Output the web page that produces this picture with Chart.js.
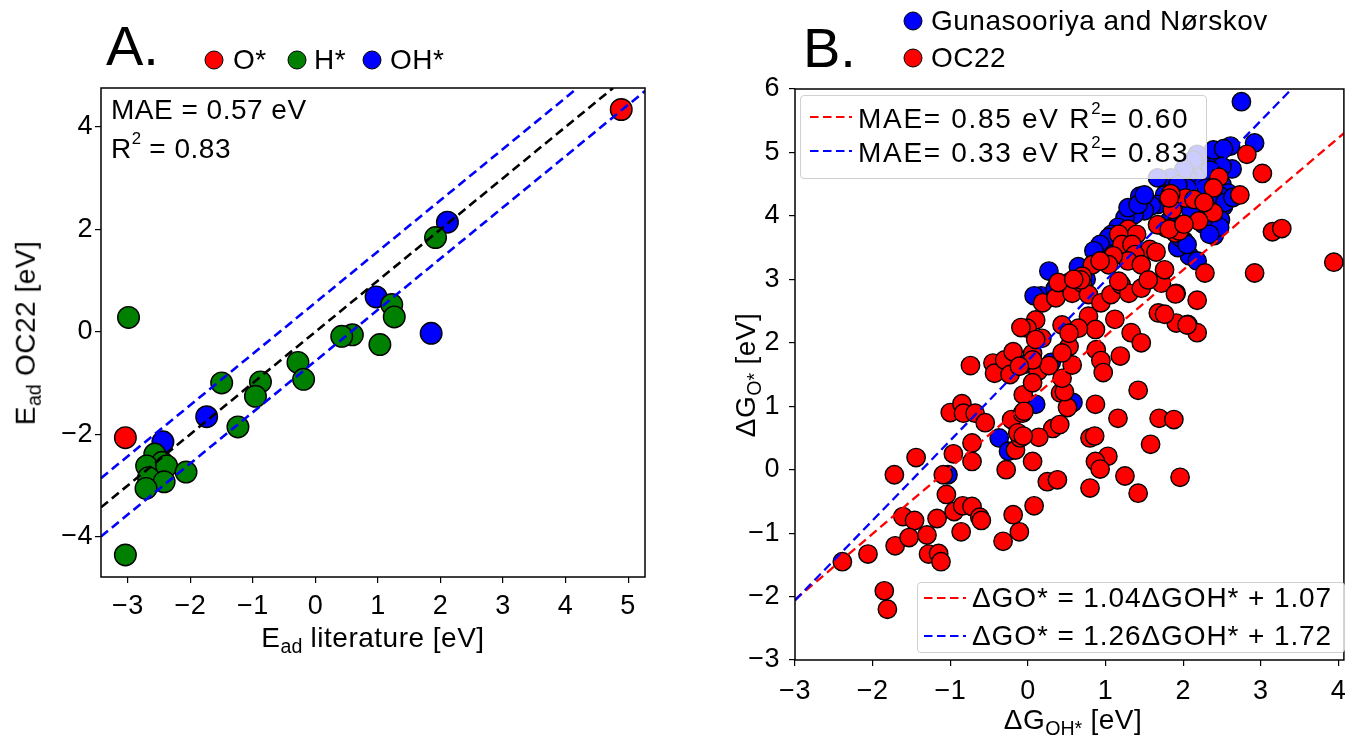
<!DOCTYPE html>
<html>
<head>
<meta charset="utf-8">
<script src="https://cdn.jsdelivr.net/npm/chart.js@4.4.0/dist/chart.umd.min.js"></script>
<style>
  body { margin: 0; background: #fff; }
  #fig { position: relative; width: 1355px; height: 742px; overflow: hidden;
         font-family: "Liberation Sans", Arial, sans-serif; color: #000; background: #fff; }
  canvas { position: absolute; top: 0; }
  .t { position: absolute; white-space: nowrap; font-size: 28px; letter-spacing: 0.5px; line-height: 1; }
  .c { transform: translate(-50%, -50%); }
  .l { transform: translate(0, -50%); }
  .rot { transform: translate(-50%, -50%) rotate(-90deg); }
  .dot { position: absolute; width: 17px; height: 17px; border: 1px solid #000; border-radius: 50%;
         transform: translate(-50%, -50%); }
  .box { position: absolute; background: rgba(255,255,255,0.8); border: 1px solid #d0d0d0; border-radius: 4px; }
  .big { font-size: 56px; letter-spacing: 0; }
  .leg { font-size: 28px; letter-spacing: 1.7px; }
  .leg2 { font-size: 28px; letter-spacing: 0.9px; }
  sub { font-size: 0.7em; vertical-align: -0.3em; letter-spacing: 0; }
  sup { font-size: 0.6em; vertical-align: 0.8em; letter-spacing: 0; }
  svg { position: absolute; overflow: visible; }
</style>
</head>
<body>
<div id="fig">
  <canvas id="chartA" width="670" height="742" style="left:0"></canvas>
  <canvas id="chartB" width="675" height="742" style="left:680px"></canvas>

  <!-- panel A labels -->
  <div class="t big l" style="left:106px;top:46px">A.</div>
  <div class="dot" style="left:214px;top:60px;background:#ff0000"></div>
  <div class="t l" style="left:233px;top:60px">O*</div>
  <div class="dot" style="left:297px;top:60px;background:#008000"></div>
  <div class="t l" style="left:314px;top:60px">H*</div>
  <div class="dot" style="left:372px;top:60px;background:#0000ff"></div>
  <div class="t l" style="left:390px;top:60px">OH*</div>
  <div class="t l" style="left:111px;top:110px">MAE = 0.57 eV</div>
  <div class="t l" style="left:111px;top:147px">R<sup>2</sup> = 0.83</div>
  <div class="t rot" style="left:28px;top:333px">E<sub>ad</sub> OC22 [eV]</div>
  <div class="t c" style="left:373px;top:640px">E<sub>ad</sub> literature [eV]</div>

  <!-- panel B labels -->
  <div class="t big l" style="left:803px;top:48px">B.</div>
  <div class="dot" style="left:913px;top:21px;background:#0000ff"></div>
  <div class="t l" style="left:931px;top:21px">Gunasooriya and Nørskov</div>
  <div class="dot" style="left:913px;top:58px;background:#ff0000"></div>
  <div class="t l" style="left:931px;top:58px">OC22</div>

  <div class="box" style="left:800px;top:95px;width:405px;height:82px"></div>
  <svg style="left:0;top:0" width="1" height="1">
    <line x1="810" y1="117" x2="852" y2="117" stroke="#ff0000" stroke-width="2.2" stroke-dasharray="8.5 4.5"/>
    <line x1="810" y1="151" x2="852" y2="151" stroke="#0000ff" stroke-width="2.2" stroke-dasharray="8.5 4.5"/>
  </svg>
  <div class="t leg l" style="left:858px;top:117px">MAE= 0.85 eV R<sup>2</sup>= 0.60</div>
  <div class="t leg l" style="left:858px;top:151px">MAE= 0.33 eV R<sup>2</sup>= 0.83</div>

  <div class="box" style="left:917px;top:582px;width:426px;height:69px"></div>
  <svg style="left:0;top:0" width="1" height="1">
    <line x1="924" y1="598" x2="966" y2="598" stroke="#ff0000" stroke-width="2.2" stroke-dasharray="8.5 4.5"/>
    <line x1="924" y1="636" x2="966" y2="636" stroke="#0000ff" stroke-width="2.2" stroke-dasharray="8.5 4.5"/>
  </svg>
  <div class="t leg2 l" style="left:972px;top:598px">ΔGO* = 1.04ΔGOH* + 1.07</div>
  <div class="t leg2 l" style="left:972px;top:636px">ΔGO* = 1.26ΔGOH* + 1.72</div>

  <div class="t rot" style="left:748px;top:375px">ΔG<sub>O*</sub> [eV]</div>
  <div class="t c" style="left:1073px;top:722px">ΔG<sub>OH*</sub> [eV]</div>
</div>

<script>
// ---- panel A: adsorption energy, literature (x) vs OC22 (y), eV ----
const adsO = [[4.89, 4.34], [-3.04, -2.07]];
const adsH = [
  [1.92, 1.84], [1.22, 0.53], [1.26, 0.29], [-2.99, 0.28], [0.59, -0.06], [0.42, -0.09],
  [1.03, -0.25], [-0.28, -0.60], [-0.19, -0.93], [-1.50, -1.00], [-0.88, -0.98], [-0.96, -1.26],
  [-1.24, -1.86], [-2.57, -2.39], [-2.45, -2.55], [-2.70, -2.62], [-2.38, -2.62], [-2.07, -2.74],
  [-2.67, -2.85], [-2.42, -2.93], [-2.71, -3.06], [-3.04, -4.36]
];
const adsOH = [[2.11, 2.14], [0.97, 0.68], [1.85, -0.03], [-1.74, -1.66], [-2.44, -2.15]];
const maeA = 0.57;
const ticksAx = [-3, -2, -1, 0, 1, 2, 3, 4, 5];
const ticksAy = [-4, -2, 0, 2, 4];
const rangeAx = [-3.43, 5.27];
const rangeAy = [-4.79, 4.76];

// ---- panel B: dG_OH* (x) vs dG_O* (y), eV ----
const dgNorskov = [
  [2.75, 5.80], [2.92, 5.15], [2.61, 5.10], [2.46, 5.02], [2.33, 4.92], [2.22, 4.89], [2.39, 5.04],
  [2.52, 5.06], [2.18, 4.97], [2.63, 4.74], [2.50, 4.78], [2.35, 4.72], [2.16, 4.62], [2.05, 4.62],
  [2.13, 4.88], [2.01, 4.73], [1.84, 4.60], [1.67, 4.60], [2.50, 4.49], [2.58, 4.36], [2.48, 4.31],
  [2.52, 4.15], [2.40, 3.99], [2.27, 4.04], [2.18, 3.99], [2.40, 3.84], [2.40, 3.69], [2.48, 3.94],
  [2.01, 3.61], [2.08, 3.37], [2.18, 3.29], [1.93, 3.50], [1.97, 3.65], [2.05, 3.55], [1.82, 3.92],
  [1.97, 3.82], [2.10, 4.08], [2.30, 4.44], [2.05, 4.44], [1.93, 4.49], [1.76, 4.33], [1.67, 4.18],
  [1.59, 4.16], [1.50, 4.08], [1.37, 4.02], [1.25, 3.97], [1.44, 4.31], [1.29, 4.13], [1.42, 4.18],
  [1.50, 4.33], [1.16, 3.82], [1.08, 3.71], [1.04, 3.66], [0.93, 3.55], [0.85, 3.45], [1.10, 3.40],
  [1.30, 3.60], [0.75, 3.00], [0.65, 3.20], [0.27, 3.13], [0.17, 2.74], [0.08, 2.74], [0.53, 2.95],
  [0.35, 2.85], [0.30, 1.69], [-0.04, 1.66], [0.10, 1.03], [0.58, 1.06], [-0.37, 0.50], [-0.25, 0.29],
  [-1.03, -0.08], [2.26, 3.87], [2.47, 3.82], [2.34, 3.71], [2.54, 4.21], [2.64, 4.29]
];
const dgOC22 = [
  [-2.39, -1.45], [-2.06, -1.33], [-1.71, -1.20], [-1.85, -1.91], [-1.81, -2.20], [-1.72, -0.08],
  [-1.44, 0.19], [-1.61, -0.74], [-1.46, -0.80], [-1.53, -1.07], [-1.30, -1.03], [-1.28, -1.33],
  [-1.15, -1.32], [-1.12, -1.45], [-1.17, -0.77], [-1.09, -0.08], [-1.05, -0.39], [-0.96, 0.25],
  [-0.95, -0.66], [-0.84, -0.57], [-0.72, -0.58], [-0.62, -0.75], [-0.60, -0.80], [-0.86, -0.98],
  [-0.72, 0.42], [-0.72, 0.13], [-1.00, 0.90], [-0.85, 1.04], [-0.83, 0.89], [-0.68, 0.89],
  [-0.55, 0.74], [-0.32, -1.13], [-0.11, -0.98], [-0.19, -0.71], [0.08, -0.57], [-0.28, 0.00],
  [0.06, 0.13], [-0.16, 0.31], [0.25, -0.19], [0.38, -0.16], [0.32, 0.65], [0.14, 0.51],
  [-0.21, 0.79], [-0.07, 0.89], [-0.10, 0.50], [-0.06, 1.18], [0.42, 1.21],
  [-0.74, 1.64], [-0.45, 1.68], [-0.43, 1.52], [-0.30, 1.73], [-0.19, 1.86], [-0.23, 1.50],
  [0.06, 1.83], [0.13, 1.55], [0.27, 1.64], [0.06, 1.37], [-0.05, 0.92], [-0.13, 0.58],
  [-0.06, 0.53], [0.41, 0.71], [0.51, 0.98], [0.47, 1.23], [0.44, 1.44], [0.57, 1.65],
  [0.53, 1.94], [0.44, 1.84], [0.44, 2.28], [0.18, 2.07], [0.10, 2.36], [-0.01, 2.23],
  [0.19, 2.63], [0.36, 2.71], [0.57, 2.78], [0.70, 2.94], [0.78, 2.76], [0.78, 2.42],
  [0.87, 2.21], [0.65, 2.23], [0.53, 2.15], [0.94, 2.63], [1.07, 2.76], [1.12, 2.37],
  [1.20, 2.92], [1.30, 2.78], [1.46, 2.86], [1.72, 2.94], [1.91, 2.78], [2.18, 2.67],
  [1.68, 2.47], [1.91, 2.31], [2.06, 2.29], [2.18, 2.16], [1.33, 2.16], [1.46, 2.00],
  [1.19, 1.79], [0.88, 1.89], [0.94, 1.72], [0.97, 1.53], [1.42, 1.25], [0.87, 1.03],
  [1.16, 0.81], [1.69, 0.81], [1.88, 0.79], [1.58, 0.40], [0.80, 0.50], [0.86, 0.53],
  [1.03, 0.21], [0.87, 0.13], [0.93, 0.01], [1.25, -0.10], [0.80, -0.29], [1.42, -0.37],
  [1.96, -0.12],
  [2.82, 4.97], [2.46, 4.61], [2.39, 4.44], [2.73, 4.33], [2.03, 4.28], [1.84, 4.35],
  [1.86, 4.10], [2.39, 4.05], [2.20, 3.92], [1.78, 3.81], [1.67, 3.86], [1.90, 3.73],
  [1.29, 3.79], [1.40, 3.71], [1.17, 3.71], [1.21, 3.55], [1.34, 3.55], [1.57, 3.47],
  [1.65, 3.43], [1.38, 3.39], [1.29, 3.29], [1.10, 3.37], [1.04, 3.23], [1.46, 3.23],
  [1.76, 3.15], [1.55, 2.99], [0.83, 3.23], [0.93, 3.29], [1.17, 2.97], [2.28, 3.10],
  [2.92, 3.10], [0.70, 3.05],
  [3.02, 4.67], [2.14, 4.26], [2.27, 4.21], [1.82, 4.28], [1.95, 3.76], [1.82, 3.79],
  [2.01, 3.87], [3.15, 3.75], [3.27, 3.80], [3.94, 3.27], [1.90, 2.77], [2.05, 2.28],
  [1.76, 2.45], [-0.09, 2.24], [0.10, 2.05], [0.06, 1.73], [-0.11, 1.63], [0.39, 2.95],
  [0.68, 2.99], [0.59, 3.00]
];
const fitSlopes = [1.04, 1.26];      // OC22, Gunasooriya and Nørskov
const fitIntercepts = [1.07, 1.72];
const ticksBx = [-3, -2, -1, 0, 1, 2, 3, 4];
const ticksBy = [-3, -2, -1, 0, 1, 2, 3, 4, 5, 6];
const rangeBx = [-3, 4.07];
const rangeBy = [-3, 6];

const toPts = (arr) => arr.map(p => ({ x: p[0], y: p[1] }));

// ends of y = m*x + b inside the plotted box (m > 0)
function lineInBox(m, b, rx, ry) {
  let x0 = rx[0], x1 = rx[1];
  if (m * x0 + b < ry[0]) x0 = (ry[0] - b) / m;
  if (m * x1 + b > ry[1]) x1 = (ry[1] - b) / m;
  return [{ x: x0, y: m * x0 + b }, { x: x1, y: m * x1 + b }];
}

// matplotlib style minus sign
const fmt = (v) => (v < 0 ? '\u2212' + Math.abs(v) : String(v));

function axis(range, ticks, fitSize, horizontal, pad) {
  return {
    type: 'linear',
    min: range[0],
    max: range[1],
    afterBuildTicks: (s) => { s.ticks = ticks.map(v => ({ value: v })); },
    afterFit: (s) => { if (horizontal) s.height = fitSize; else s.width = fitSize; },
    grid: { drawOnChartArea: false, drawTicks: true, tickLength: 6, color: '#000', lineWidth: 1.2 },
    border: { display: false },
    ticks: {
      callback: fmt,
      color: '#000',
      padding: pad,
      maxRotation: 0,
      autoSkip: false,
      font: { family: 'Liberation Sans', size: 27 }
    }
  };
}

// closed box round the axes, and a touch of letter spacing like the original figure
const frame = {
  id: 'frame',
  beforeDraw(chart) { chart.ctx.letterSpacing = '0.5px'; },
  afterDraw(chart) {
    const { ctx, chartArea: a } = chart;
    ctx.save();
    ctx.strokeStyle = '#000';
    ctx.lineWidth = 1.5;
    ctx.strokeRect(a.left, a.top, a.right - a.left, a.bottom - a.top);
    ctx.restore();
  }
};

function dashed(pts, color, width) {
  return { data: pts, showLine: true, borderColor: color, borderWidth: width,
           borderDash: [9, 5], pointRadius: 0, fill: false };
}
function dots(arr, color, r) {
  return { data: toPts(arr), backgroundColor: color, borderColor: '#000', borderWidth: 1.4,
           pointRadius: r, showLine: false, clip: false };
}

const common = {
  responsive: false,
  animation: false,
  events: [],
  plugins: { legend: { display: false }, tooltip: { enabled: false } }
};

// Panel A
new Chart(document.getElementById('chartA'), {
  type: 'scatter',
  data: {
    datasets: [
      dashed(lineInBox(1, 0, rangeAx, rangeAy), '#000000', 2.6),
      dashed(lineInBox(1, maeA, rangeAx, rangeAy), '#0000ff', 2.6),
      dashed(lineInBox(1, -maeA, rangeAx, rangeAy), '#0000ff', 2.6),
      dots(adsO, '#ff0000', 10.8),
      dots(adsH, '#008000', 10.8),
      dots(adsOH, '#0000ff', 10.8)
    ]
  },
  options: {
    ...common,
    layout: { padding: { left: 0, top: 88, right: 25, bottom: 0 }, autoPadding: false },
    scales: {
      x: axis(rangeAx, ticksAx, 165, true, 7),
      y: axis(rangeAy, ticksAy, 101, false, 2)
    }
  },
  plugins: [frame]
});

// Panel B
new Chart(document.getElementById('chartB'), {
  type: 'scatter',
  data: {
    datasets: [
      dashed(lineInBox(fitSlopes[1], fitIntercepts[1], rangeBx, rangeBy), '#0000ff', 2.3),
      dashed(lineInBox(fitSlopes[0], fitIntercepts[0], rangeBx, rangeBy), '#ff0000', 2.3),
      dots(dgOC22, '#ff0000', 9.2),
      dots(dgNorskov, '#0000ff', 9.2)
    ]
  },
  options: {
    ...common,
    layout: { padding: { left: 0, top: 89, right: 3, bottom: 0 }, autoPadding: false },
    scales: {
      x: axis(rangeBx, ticksBx, 82, true, 9),
      y: axis(rangeBy, ticksBy, 115, false, 9)
    }
  },
  plugins: [frame]
});
</script>
</body>
</html>
